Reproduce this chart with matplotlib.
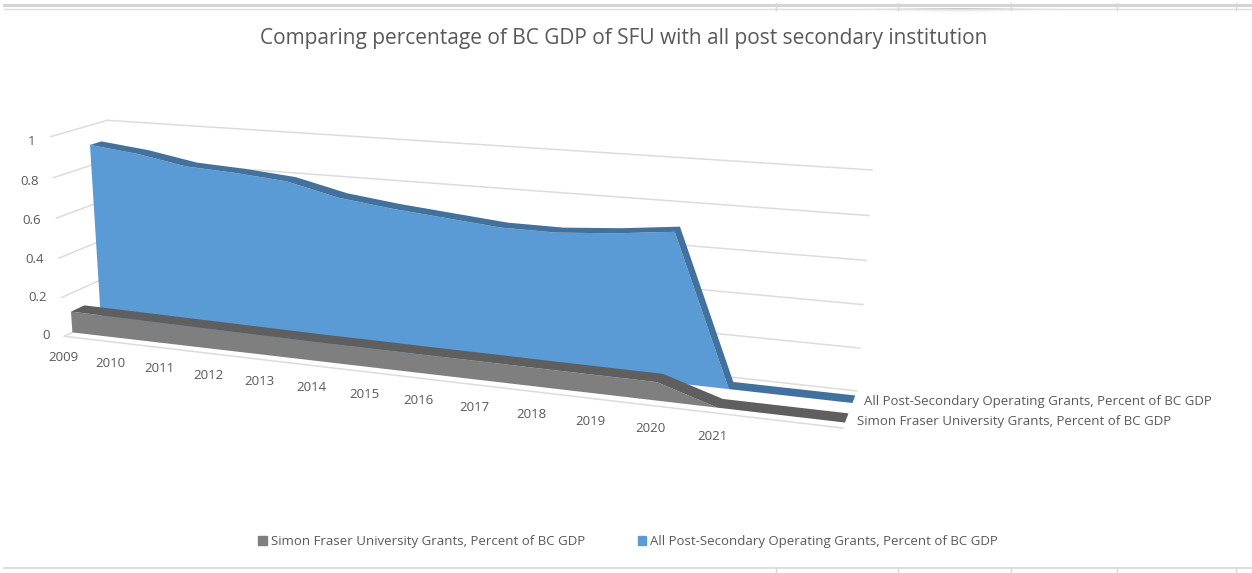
import numpy as np
import matplotlib
matplotlib.use('Agg')
import matplotlib.pyplot as plt
from matplotlib.patches import Patch, Polygon
from matplotlib.transforms import Transform

plt.rcParams['font.family'] = ['Open Sans', 'DejaVu Sans']

# data. the two unnamed slots are the empty categories
# excel leaves at the right end of the axis
years = ['2009', '2010', '2011', '2012', '2013', '2014', '2015',
         '2016', '2017', '2018', '2019', '2020', '2021', '', '']
sfu_pct = [0.108, 0.105, 0.102, 0.099, 0.096, 0.093, 0.092,
           0.090, 0.089, 0.087, 0.086, 0.085, 0.0, 0.0, 0.0]
all_pct = [0.903, 0.875, 0.830, 0.816, 0.794, 0.734, 0.702,
           0.678, 0.654, 0.652, 0.671, 0.700, 0.0, 0.0, 0.0]
value_ticks = [0, 0.2, 0.4, 0.6, 0.8, 1]
value_labels = ['0', '0.2', '0.4', '0.6', '0.8', '1']
sfu_name = 'Simon Fraser University Grants, Percent of BC GDP'
all_name = 'All Post-Secondary Operating Grants, Percent of BC GDP'
title = 'Comparing percentage of BC GDP of SFU with all post secondary institution'

# colours
blue_face = '#5b9bd5'
blue_top = '#41719c'
gray_face = '#7f7f7f'
gray_top = '#5f5f5f'
grid_col = '#dcdcdc'
text_col = '#595959'

# depth of each slab inside the chart box, 0 is the front of the floor, 1 the back wall
sfu_depth = (0.14, 0.38)
all_depth = (0.66, 0.87)
x_end = len(years) - 1

# camera: (category, value, depth) -> pixel, fitted to the corners of the box
box_3d = [(0, 0, 0), (0, 1, 0), (x_end, 0, 0),
          (0, 0, 1), (0, 1, 1), (x_end, 0, 1), (x_end, 1, 1)]
box_px = [(65, 336), (50, 137), (843, 428),
          (118, 310), (108, 120), (857, 391), (872, 170)]


def fit_camera(pts3d, pts2d):
    rows, rhs = [], []
    for (x, v, z), (u, w) in zip(pts3d, pts2d):
        rows.append([x, v, z, 1, 0, 0, 0, 0, -u * x, -u * v, -u * z])
        rows.append([0, 0, 0, 0, x, v, z, 1, -w * x, -w * v, -w * z])
        rhs += [u, w]
    p = np.linalg.lstsq(np.array(rows, float), np.array(rhs, float), rcond=None)[0]
    return np.append(p, 1.0).reshape(3, 4)


camera = fit_camera(box_3d, box_px)


class Slice(Transform):
    """2d data on one slice of the 3d box, axis says which coordinate is held fixed"""
    input_dims = 2
    output_dims = 2

    def __init__(self, axis, value):
        super().__init__()
        self.axis = axis
        self.value = value

    def transform_non_affine(self, values):
        values = np.asarray(values, float)
        pts = np.insert(values, self.axis, self.value, axis=1)
        pts = np.column_stack([pts, np.ones(len(pts))])
        out = pts @ camera.T
        return out[:, :2] / out[:, 2:3]


def at_depth(z):
    return Slice(2, z)


fig = plt.figure(figsize=(12.52, 5.73), dpi=100)
ax = fig.add_axes([0, 0, 1, 1])
ax.set_xlim(0, 1252)
ax.set_ylim(573, 0)
ax.axis('off')
ax.autoscale(False)

# bits of the spreadsheet window around the chart
for y, lw, col in [(5, 2.2, '#d4d4d4'), (9, 1.0, '#dedede'), (568, 1.2, '#d8d8d8')]:
    ax.plot([4, 1252], [y, y], color=col, lw=lw)
for x in [776, 898, 1011, 1117, 1236]:
    ax.plot([x, x], [3, 10], color='#d8d8d8', lw=1)
    ax.plot([x, x], [568, 573], color='#d8d8d8', lw=1)
# soft shadow under the toolbar
gx, gy = np.meshgrid(np.linspace(-1, 1, 120), np.linspace(0, 1, 20))
shadow = np.zeros(gx.shape + (4,))
shadow[..., 3] = 0.28 * np.exp(-3 * gx ** 2 - 5 * gy)
ax.imshow(shadow, extent=(860, 1060, 16, 8), aspect='auto', zorder=0.5)

# back wall and side wall gridlines
back = at_depth(1) + ax.transData
side = Slice(0, 0) + ax.transData
for v in value_ticks:
    ax.plot([0, x_end], [v, v], color=grid_col, lw=1.1, transform=back, zorder=1)
    ax.plot([v, v], [0, 1], color=grid_col, lw=1.1, transform=side, zorder=1)
# front edge of the floor
ax.plot([0, x_end], [0, 0], color=grid_col, lw=1.1, transform=at_depth(0) + ax.transData, zorder=1)


def draw_slab(values, depth, face, top, z):
    xs = np.arange(len(values))
    vals = np.array(values)
    last = np.nonzero(vals)[0][-1] + 1
    fx = list(xs[:last + 1]) + [xs[last], 0]
    fy = list(vals[:last + 1]) + [0, 0]
    front = at_depth(depth[0])
    ax.fill(fx, fy, color=face, lw=0, transform=front + ax.transData, zorder=z)
    line = np.column_stack([xs, vals])
    lower = front.transform(line)
    upper = at_depth(depth[1]).transform(line)
    ax.add_patch(Polygon(np.vstack([lower, upper[::-1]]), closed=True, color=top, lw=0, zorder=z))


draw_slab(all_pct, all_depth, blue_face, blue_top, 3)
draw_slab(sfu_pct, sfu_depth, gray_face, gray_top, 4)

# tick labels
front = at_depth(0) + ax.transData
for v, lab in zip(value_ticks, value_labels):
    ax.annotate(lab, (0, v), xycoords=front, xytext=(-15, 1 - 6 * v), textcoords='offset pixels',
                ha='right', va='center', fontsize=9.5, color=text_col)
for i, lab in enumerate(years):
    ax.annotate(lab, (i, 0), xycoords=front, xytext=(-1 - 0.1 * i, -21 - 0.2 * i),
                textcoords='offset pixels', ha='center', va='center',
                fontsize=9.5, color=text_col)

# series names on the depth axis
ax.text(864, 401, all_name, ha='left', va='center', fontsize=9.5, color=text_col)
ax.text(857, 422, sfu_name, ha='left', va='center', fontsize=9.5, color=text_col)

ax.text(623.5, 38.5, title, ha='center', va='center', fontsize=15, color=text_col)

handles = [Patch(color=gray_face, label=sfu_name), Patch(color=blue_face, label=all_name)]
ax.legend(handles=handles, loc='center', bbox_to_anchor=(628 / 1252, 1 - 542 / 573),
          ncol=2, frameon=False, fontsize=9.55, labelcolor=text_col,
          handlelength=0.65, handleheight=0.65, handletextpad=0.3, columnspacing=4.0)

ax.set_xlim(0, 1252)
ax.set_ylim(573, 0)
fig.savefig('out.png', dpi=100)
